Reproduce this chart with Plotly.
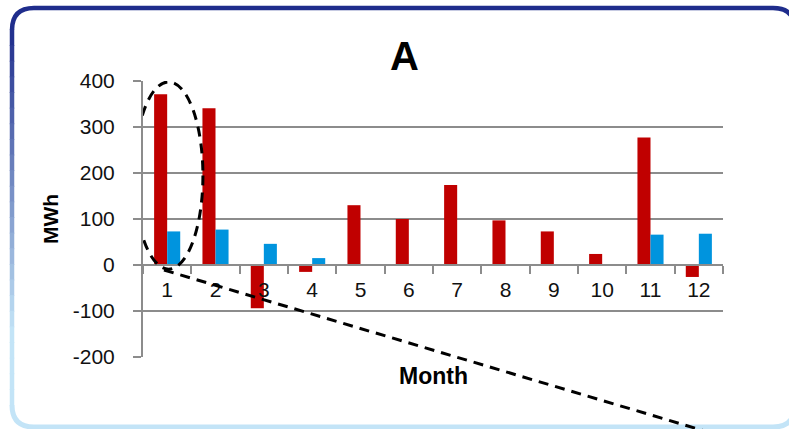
import plotly.graph_objects as go

# ---- data ----
months = ["1", "2", "3", "4", "5", "6", "7", "8", "9", "10", "11", "12"]
red_values = [371, 341, -94, -15, 130, 100, 174, 97, 73, 24, 277, -26]
blue_values = [73, 77, 46, 15, 0, 0, 0, 0, 0, 0, 66, 68]
y_ticks = [-200, -100, 0, 100, 200, 300, 400]
y_tick_labels = ["-200", "-100", "0", "100", "200", "300", "400"]
title_text = "A"
x_title = "Month"
y_title = "MWh"

W, H = 789, 429
L, R, T, B = 143, 66, 81, 72
PW, PH = W - L - R, H - T - B


def px(x):
    return (x - L) / PW


def py(y):
    return (H - B - y) / PH


FONT = "Liberation Sans, Arial, sans-serif"
RED = "#C00000"
BLUE = "#0094DE"
GRID = "#8C8C8C"

fig = go.Figure()
fig.add_trace(go.Bar(x=months, y=red_values, marker=dict(color=RED, line=dict(width=0)), name="red"))
fig.add_trace(go.Bar(x=months, y=blue_values, marker=dict(color=BLUE, line=dict(width=0)), name="blue"))

shapes = []

# ---- rounded frame with gradient border ----
fx0, fy0, fx1, fy1, rr = 12, 8, 795, 427, 22
navy = (31, 45, 140)
light = (195, 228, 247)


def mix(t):
    t = max(0.0, min(1.0, t))
    c = [round(navy[i] + (light[i] - navy[i]) * t) for i in range(3)]
    return "rgb(%d,%d,%d)" % tuple(c)


def seg(path, color, w=4.5):
    shapes.append(dict(type="path", path=path, xref="paper", yref="paper",
                       line=dict(color=color, width=w), layer="above"))


def P(x, y):
    return "%f,%f" % (px(x), py(y))


# top edge with corners (navy)
seg("M %s Q %s %s L %s Q %s %s" % (P(fx0, fy0 + rr), P(fx0, fy0), P(fx0 + rr, fy0),
                                   P(fx1 - rr, fy0), P(fx1, fy0), P(fx1, fy0 + rr)), mix(0))
# left and right edges gradient
n = 24
for k in range(n):
    ya = fy0 + rr + (fy1 - rr - fy0 - rr) * k / n
    yb = fy0 + rr + (fy1 - rr - fy0 - rr) * (k + 1) / n
    t = ((ya + yb) / 2 - 30) / 300
    seg("M %s L %s" % (P(fx0, ya - 0.5), P(fx0, yb + 0.5)), mix(t))
    seg("M %s L %s" % (P(fx1, ya - 0.5), P(fx1, yb + 0.5)), mix(t))
# bottom edge with corners (light)
seg("M %s Q %s %s L %s Q %s %s" % (P(fx0, fy1 - rr), P(fx0, fy1), P(fx0 + rr, fy1),
                                   P(fx1 - rr, fy1), P(fx1, fy1), P(fx1, fy1 - rr)), mix(1), 5)

# ---- dashed ellipse around month 1 (data coords) ----
shapes.append(dict(type="circle", xref="x", yref="y", x0=-0.68, x1=0.74, y0=-9, y1=398,
                   line=dict(color="black", width=3, dash="10px,7px"), layer="above"))
# ---- dashed pointer line ----
shapes.append(dict(type="line", xref="paper", yref="paper",
                   x0=px(164), y0=py(270), x1=px(735), y1=py(440),
                   line=dict(color="black", width=3, dash="10px,7px"), layer="above"))

annotations = [
    dict(text="<b>%s</b>" % title_text, x=px(404), y=py(56), xref="paper", yref="paper",
         showarrow=False, font=dict(size=40, color="black", family=FONT),
         xanchor="center", yanchor="middle"),
    dict(text="<b>%s</b>" % x_title, x=px(433), y=py(376), xref="paper", yref="paper",
         showarrow=False, font=dict(size=23, color="black", family=FONT),
         xanchor="center", yanchor="middle"),
    dict(text="<b>%s</b>" % y_title, x=px(50), y=py(219), xref="paper", yref="paper",
         showarrow=False, textangle=-90, font=dict(size=21, color="black", family=FONT),
         xanchor="center", yanchor="middle"),
]

fig.update_layout(
    width=W, height=H,
    margin=dict(l=L, r=R, t=T, b=B, pad=0),
    paper_bgcolor="white", plot_bgcolor="white",
    barmode="group", bargap=0.46, bargroupgap=0,
    showlegend=False,
    font=dict(family=FONT, size=21, color="#111111"),
    shapes=shapes, annotations=annotations,
    xaxis=dict(type="category", anchor="free", position=1 / 3, range=[-0.5, len(months) - 0.5],
               showline=True, linecolor=GRID, linewidth=2,
               ticks="outside", ticklen=8, tickwidth=2, tickcolor=GRID,
               tickson="boundaries", showgrid=False, zeroline=False,
               tickfont=dict(size=21, color="#111111"), ticklabelstandoff=6),
    yaxis=dict(range=[-200, 400], tickvals=y_ticks, ticktext=y_tick_labels,
               showline=True, linecolor=GRID,
               linewidth=2, ticks="outside", ticklen=8, tickwidth=2, tickcolor=GRID,
               showgrid=True, gridcolor=GRID, gridwidth=2, zeroline=False,
               tickfont=dict(size=21, color="#111111"), ticklabelstandoff=14),
)

fig.write_html("out.html", config={"displayModeBar": False, "staticPlot": True},
               post_script="document.body.style.margin='0';document.body.style.overflow='hidden';")
